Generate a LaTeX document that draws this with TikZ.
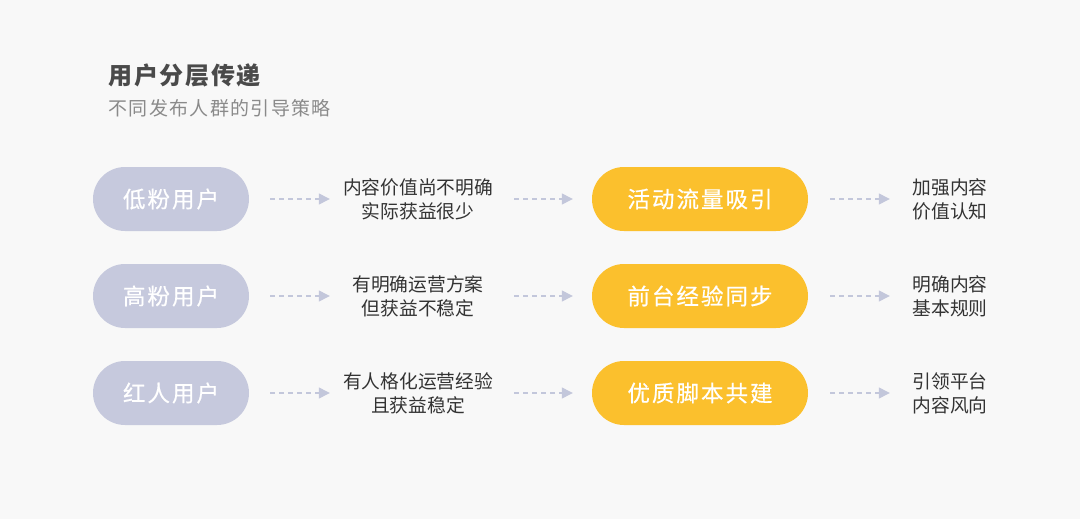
\documentclass[tikz,border=0pt]{standalone}
\usepackage{fontspec}
\newfontfamily\cjk{Noto Sans CJK SC}
\newfontfamily\cjkwide[LetterSpace=9, FakeBold=0.6]{Noto Sans CJK SC}
\newfontfamily\cjktitle[LetterSpace=7]{Noto Sans CJK SC}
\newfontfamily\cjksub[LetterSpace=7]{Noto Sans CJK SC}
\usetikzlibrary{positioning,arrows.meta}

\definecolor{bgc}{HTML}{F8F8F8}
\definecolor{greyc}{HTML}{C6C9DD}
\definecolor{yelc}{HTML}{FBC02D}
\definecolor{arrc}{HTML}{C3C7DB}
\definecolor{txtc}{HTML}{333333}
\definecolor{ttlc}{HTML}{4A4A4A}
\definecolor{subc}{HTML}{8A8A8A}

\begin{document}
\begin{tikzpicture}[
  x=1pt, y=-1pt,
  font=\cjk,
  every node/.style={align=center},
  grp/.style ={rectangle, rounded corners=32pt, fill=greyc, text=white,
               minimum width=156pt, minimum height=64pt, inner sep=0pt,
               font=\cjkwide\fontsize{22.5}{24}\selectfont},
  act/.style ={rectangle, rounded corners=32pt, fill=yelc, text=white,
               minimum width=216pt, minimum height=64pt, inner sep=0pt,
               font=\cjkwide\fontsize{22.5}{24}\selectfont},
  desc/.style={text=txtc, minimum width=150pt, inner sep=0pt,
               font=\cjk\fontsize{18.75}{24}\selectfont},
  aim/.style ={text=txtc, minimum width=76pt, inner sep=0pt,
               font=\cjk\fontsize{18.75}{24}\selectfont},
  arrow/.style={-{Triangle[length=11pt, width=11pt]}, line width=1.3pt,
                draw=arrc, dash pattern=on 5pt off 4pt},
]
\fill[bgc] (0,0) rectangle (1080,519);
\useasboundingbox (0,0) rectangle (1080,519);

% Title
\node[anchor=west, text=ttlc, font=\cjktitle\bfseries\fontsize{24}{26}\selectfont]
     (title) at (105,75) {用户分层传递};
\node[anchor=west, text=subc, font=\cjksub\fontsize{19}{22}\selectfont]
     (subtitle) at (105,108) {不同发布人群的引导策略};

% Row 1
\node[grp]  (g1) at (171,199) {低粉用户};
\node[desc] (d1) at (418,199) {内容价值尚不明确\\实际获益很少};
\node[act]  (a1) at (700,199) {活动流量吸引};
\node[aim]  (m1) at (950,199) {加强内容\\价值认知};

% Row 2
\node[grp]  (g2) at (171,296) {高粉用户};
\node[desc] (d2) at (418,296) {有明确运营方案\\但获益不稳定};
\node[act]  (a2) at (700,296) {前台经验同步};
\node[aim]  (m2) at (950,296) {明确内容\\基本规则};

% Row 3
\node[grp]  (g3) at (171,393) {红人用户};
\node[desc] (d3) at (418,393) {有人格化运营经验\\且获益稳定};
\node[act]  (a3) at (700,393) {优质脚本共建};
\node[aim]  (m3) at (950,393) {引领平台\\内容风向};

% Arrows
\draw[arrow, shorten <=21pt, shorten >=13pt] (g1) -- (d1);
\draw[arrow, shorten <=21pt, shorten >=19pt] (d1) -- (a1);
\draw[arrow, shorten <=22pt, shorten >=22pt] (a1) -- (m1);
\draw[arrow, shorten <=21pt, shorten >=13pt] (g2) -- (d2);
\draw[arrow, shorten <=21pt, shorten >=19pt] (d2) -- (a2);
\draw[arrow, shorten <=22pt, shorten >=22pt] (a2) -- (m2);
\draw[arrow, shorten <=21pt, shorten >=13pt] (g3) -- (d3);
\draw[arrow, shorten <=21pt, shorten >=19pt] (d3) -- (a3);
\draw[arrow, shorten <=22pt, shorten >=22pt] (a3) -- (m3);

\end{tikzpicture}
\end{document}
